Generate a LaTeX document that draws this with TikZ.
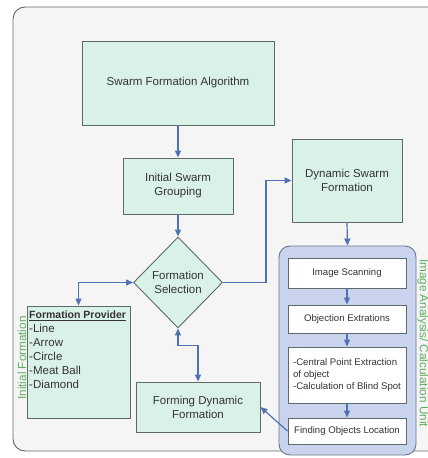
\documentclass[tikz,border=0pt]{standalone}
\usepackage{fontspec}
\setmainfont{Liberation Sans}
\usetikzlibrary{arrows.meta,shapes.geometric}
\definecolor{boxfill}{HTML}{D9F1E7}
\definecolor{boxline}{HTML}{5C6B67}
\definecolor{arrowc}{HTML}{4E72B2}
\definecolor{panelfill}{HTML}{C9D3EE}
\definecolor{panelline}{HTML}{6B7690}
\definecolor{bgfill}{HTML}{F5F5F5}
\definecolor{labgreen}{HTML}{5DAE5D}
\definecolor{txt}{HTML}{333333}
\tikzset{
  box/.style={draw=boxline, fill=boxfill, line width=0.9pt, inner sep=2pt, align=center, text=txt, font=\fontsize{11.5}{14}\selectfont},
  ibox/.style={draw=boxline, fill=white, line width=0.9pt, inner sep=2pt, align=center, text=txt, font=\fontsize{9.6}{12}\selectfont, minimum width=118pt},
  arr/.style={draw=arrowc, line width=1.2pt, -{Triangle[width=6pt,length=7pt]}},
  darr/.style={draw=arrowc, line width=1.2pt, {Triangle[width=6pt,length=7pt]}-{Triangle[width=6pt,length=7pt]}},
  glabel/.style={text=labgreen, font=\fontsize{11.7}{14}\selectfont}
}
\begin{document}
\begin{tikzpicture}[x=1pt,y=-1pt]
\useasboundingbox (0,0) rectangle (428,458);
\clip (0,0) rectangle (428,458);
\fill[white] (0,0) rectangle (428,458);
\draw[draw=gray!80!black, fill=bgfill, line width=0.9pt, rounded corners=12pt] (13,7) rectangle (440,451);

\node[box, minimum width=192pt, minimum height=84pt] (alg) at (178,83) {Swarm Formation Algorithm};
\node[box, minimum width=110pt, minimum height=56pt] (isg) at (178,186) {Initial Swarm\\Grouping};
\node[box, minimum width=110pt, minimum height=83pt] (dsf) at (347,180.5) {Dynamic Swarm\\Formation};
\node[box, shape=diamond, minimum width=89pt, minimum height=91pt, inner sep=0pt] (sel) at (178,282.5) {Formation\\Selection};
\node[box, minimum width=103pt, minimum height=112pt] (prov) at (78.5,362) {};
\node[anchor=north west, align=left, inner sep=0pt, text=txt, font=\fontsize{11.5}{14}\selectfont] (provtext) at (29,311)
  {{\fontsize{10.5}{14}\selectfont\bfseries\underline{Formation Provider}}\\-Line\\-Arrow\\-Circle\\-Meat Ball\\-Diamond};
\node[box, minimum width=124pt, minimum height=50pt] (fdf) at (198,407) {Forming Dynamic\\Formation};

\node[draw=panelline, fill=panelfill, line width=0.9pt, rounded corners=11pt, minimum width=137pt, minimum height=209pt] (panel) at (347.5,350.5) {};
\node[ibox, minimum height=30pt] (scan) at (347,273) {Image Scanning};
\node[ibox, minimum height=28pt] (obj) at (347,319) {Objection Extrations};
\node[ibox, minimum height=56pt, align=left] (cpe) at (347,375) {-Central Point Extraction\\of object\\-Calculation of Blind Spot};
\node[ibox, minimum height=26pt] (fol) at (347,431) {Finding Objects Location};

\node[glabel, rotate=90] (lab1) at (22,358) {Initial Formation};
\node[glabel, rotate=-90] (lab2) at (423,343) {Image Analysis/ Calculation Unit};

\draw[arr] (alg.south) -- (isg.north);
\draw[arr] (isg.south) -- (sel.north);
\draw[arr] (sel.east) -- ++(43,0) |- (dsf.west);
\draw[arr] (dsf.south) -- (panel.north);
\draw[arr] (scan.south) -- (obj.north);
\draw[arr] (obj.south) -- (cpe.north);
\draw[arr] (cpe.south) -- (fol.north);
\draw[arr] (fol.west) -- (fdf.east);
\draw[darr] (sel.west) -| (prov.north);
\draw[darr] (sel.south) -- ++(0,17) -| (fdf.north);
\end{tikzpicture}
\end{document}
